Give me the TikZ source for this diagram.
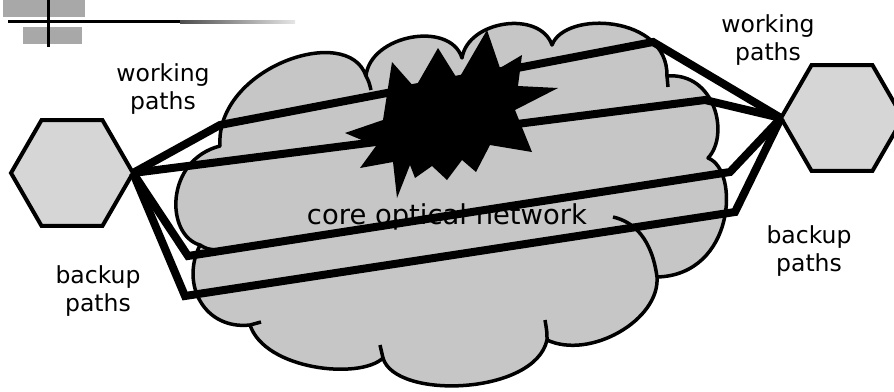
\documentclass[tikz,border=0pt]{standalone}
\usepackage{fontspec}
\setmainfont{DejaVu Sans}
\usepackage{tikz}
\usetikzlibrary{shapes.geometric}
\definecolor{cloudGrey}{HTML}{C6C6C6}
\definecolor{hexGrey}{HTML}{D6D6D6}
\definecolor{decoGrey}{HTML}{A8A8A8}

\begin{document}
\begin{tikzpicture}[x=1pt, y=-1pt,
    site/.style={regular polygon, regular polygon sides=6, minimum size=122pt, inner sep=0pt, outer sep=0pt, draw=black, line width=4pt, fill=hexGrey},
    pathline/.style={line width=8pt, black},
    curl/.style={line width=3.5pt, black},
    lbl/.style={align=center, font=\fontsize{23.5}{28}\selectfont}]
  \useasboundingbox (0,0) rectangle (894,391);
  % bits of the slide title bar
  \fill[decoGrey] (3,0) rectangle (85,17);
  \fill[decoGrey] (23,27) rectangle (82,44);
  \fill[black] (8,20) rectangle (180,23);
  \shade[left color=black!70, right color=black!10] (180,20) rectangle (295,23);
  \draw[line width=3pt] (48,0) -- (48,47);

  % the cloud
  \draw[fill=cloudGrey, line width=3.5pt, line join=round]
    (220,146) .. controls (215,68) and (348,22) .. (366,76)
    .. controls (370,35) and (450,20) .. (462,58)
    .. controls (468,20) and (540,10) .. (552,45)
    .. controls (565,10) and (668,15) .. (667,76)
    .. controls (715,72) and (730,135) .. (708,158)
    .. controls (740,170) and (735,275) .. (657,277)
    .. controls (660,320) and (590,360) .. (547,340)
    .. controls (535,395) and (395,400) .. (383,358)
    .. controls (360,380) and (265,370) .. (250,325)
    .. controls (205,330) and (180,285) .. (200,245)
    .. controls (165,235) and (165,160) .. (220,146) -- cycle;
  \draw[curl] (366,76) .. controls (369,82) .. (371,90);
  \draw[curl] (667,76) -- (668,87);
  \draw[curl] (657,277) .. controls (652,240) and (635,222) .. (613,217);
  \draw[curl] (547,340) .. controls (547,332) .. (545,320);
  \draw[curl] (383,358) .. controls (382,352) .. (380,345);
  \draw[curl] (250,325) .. controls (255,323) .. (261,322);
  \draw[curl] (200,245) .. controls (207,249) .. (217,250);

  \node[site] (srcA) at (72,173) {};
  \node[site] (dstB) at (842,118) {};

  \node[lbl] (wrkL) at (163,89) {working\\paths};
  \node[lbl] (wrkR) at (768,40) {working\\paths};
  \node[lbl] (bkpL) at (98,291) {backup\\paths};
  \node[lbl] (bkpR) at (809,251) {backup\\paths};
  \node[font=\fontsize{27.4}{30}\selectfont, anchor=base] (core) at (447,224) {core optical network};

  \coordinate (wu1) at (220,125);
  \coordinate (wu2) at (653,42);
  \coordinate (wl1) at (705,100);
  \coordinate (bu1) at (188,256);
  \coordinate (bu2) at (730,172);
  \coordinate (bl1) at (185,296);
  \coordinate (bl2) at (735,212);

  % working and backup paths
  \draw[pathline] (srcA.corner 6) -- (wu1) -- (wu2) -- (dstB.corner 3);
  \draw[pathline] (srcA.corner 6) -- (wl1) -- (dstB.corner 3);
  \draw[pathline] (srcA.corner 6) -- (bu1) -- (bu2) -- (dstB.corner 3);
  \draw[pathline] (srcA.corner 6) -- (bl1) -- (bl2) -- (dstB.corner 3);

  % the failure
  \fill[black] (487,30) -- (500,68) -- (522,55) -- (518,86) -- (558,88) -- (515,110)
    -- (532,152) -- (490,145) -- (476,172) -- (462,160) -- (447,180) -- (432,166)
    -- (415,178) -- (410,165) -- (397,198) -- (393,162) -- (360,168) -- (376,146)
    -- (345,133) -- (383,120) -- (392,62) -- (415,88) -- (438,48) -- (458,80) -- cycle;
\end{tikzpicture}
\end{document}
